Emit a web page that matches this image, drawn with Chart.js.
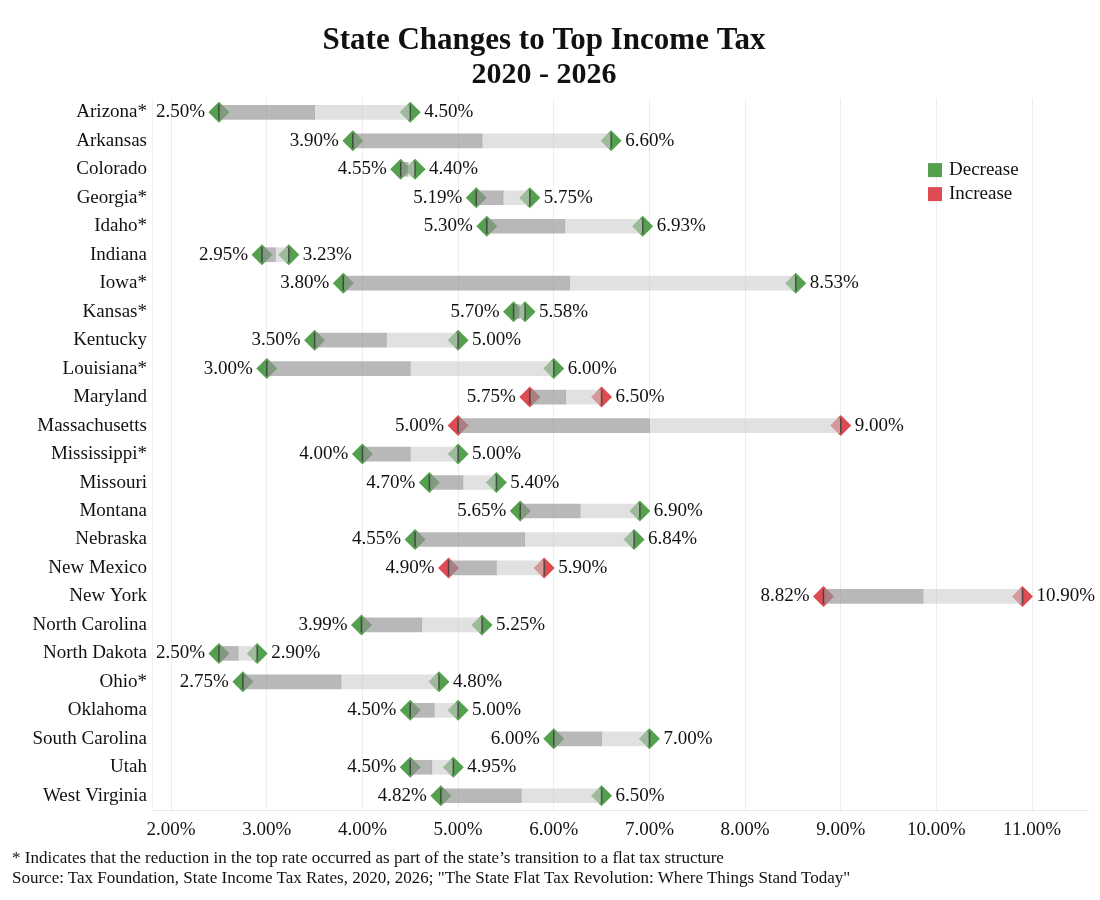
<!DOCTYPE html>
<html>
<head>
<meta charset="utf-8">
<title>State Changes to Top Income Tax</title>
<script src="https://cdn.jsdelivr.net/npm/chart.js@4.4.1/dist/chart.umd.min.js"></script>
<style>
  html, body { margin: 0; padding: 0; background: #fff; }
  #wrap { position: relative; width: 1100px; height: 900px; }
  .note { position: absolute; left: 12px; font-family: "Liberation Serif", serif; font-size: 17px; line-height: 20px; color: #111; white-space: nowrap; }
</style>
</head>
<body>
<div id="wrap">
  <canvas id="taxChart"></canvas>
  <div class="note" style="top:848px">* Indicates that the reduction in the top rate occurred as part of the state’s transition to a flat tax structure</div>
  <div class="note" style="top:868px">Source: Tax Foundation, State Income Tax Rates, 2020, 2026; "The State Flat Tax Revolution: Where Things Stand Today"</div>
</div>
<script>
// top marginal rates (%)
const states = ['Arizona*', 'Arkansas', 'Colorado', 'Georgia*', 'Idaho*', 'Indiana', 'Iowa*', 'Kansas*',
  'Kentucky', 'Louisiana*', 'Maryland', 'Massachusetts', 'Mississippi*', 'Missouri', 'Montana', 'Nebraska',
  'New Mexico', 'New York', 'North Carolina', 'North Dakota', 'Ohio*', 'Oklahoma', 'South Carolina', 'Utah',
  'West Virginia'];
const rate2020 = [4.50, 6.60, 4.55, 5.75, 6.93, 3.23, 8.53, 5.70, 5.00, 6.00, 5.75, 5.00, 5.00, 5.40, 6.90,
  6.84, 4.90, 8.82, 5.25, 2.90, 4.80, 5.00, 7.00, 4.95, 6.50];
const rate2026 = [2.50, 3.90, 4.40, 5.19, 5.30, 2.95, 3.80, 5.58, 3.50, 3.00, 6.50, 9.00, 4.00, 4.70, 5.65,
  4.55, 5.90, 10.90, 3.99, 2.50, 2.75, 4.50, 6.00, 4.50, 4.82];
// rows where the original puts the 2020 label on the left
const swappedLabels = ['Colorado', 'Kansas*'];
const xTicks = [2, 3, 4, 5, 6, 7, 8, 9, 10, 11];
const legendItems = ['Decrease', 'Increase'];

const GREEN = '#55a04e';
const RED = '#dd4c52';
const FONT = '"Liberation Serif", "Times New Roman", serif';

const lows = states.map((s, i) => Math.min(rate2020[i], rate2026[i]));
const highs = states.map((s, i) => Math.max(rate2020[i], rate2026[i]));
const mids = states.map((s, i) => (lows[i] + highs[i]) / 2);
const colorOf = i => (rate2026[i] < rate2020[i] ? GREEN : RED);
const pct = v => v.toFixed(2) + '%';

// value labels + legend
const annotations = {
  id: 'annotations',
  afterDatasetsDraw(chart) {
    const { ctx, chartArea, scales: { x, y } } = chart;
    ctx.save();
    ctx.font = '19px ' + FONT;
    ctx.fillStyle = '#111';
    ctx.textBaseline = 'middle';
    states.forEach((s, i) => {
      const py = y.getPixelForValue(i);
      const swap = swappedLabels.includes(s);
      ctx.textAlign = 'right';
      ctx.fillText(pct(swap ? highs[i] : lows[i]), x.getPixelForValue(lows[i]) - 14, py);
      ctx.textAlign = 'left';
      ctx.fillText(pct(swap ? lows[i] : highs[i]), x.getPixelForValue(highs[i]) + 14, py);
    });

    const lx = chartArea.right - 160, ly = chartArea.top + 65;
    [GREEN, RED].forEach((c, k) => {
      ctx.fillStyle = c;
      ctx.fillRect(lx, ly + k * 24, 14, 14);
      ctx.fillStyle = '#111';
      ctx.textAlign = 'left';
      ctx.fillText(legendItems[k], lx + 21, ly + k * 24 + 7);
    });
    ctx.restore();
  }
};

new Chart(document.getElementById('taxChart'), {
  type: 'bar',
  data: {
    labels: states,
    datasets: [
      {
        type: 'scatter',
        label: 'ticks',
        data: states.flatMap((s, i) => [{ x: rate2020[i], y: s }, { x: rate2026[i], y: s }]),
        pointStyle: 'line',
        rotation: 90,
        radius: 7.5,
        borderWidth: 1.5,
        borderColor: 'rgba(45,45,45,0.75)',
        order: 0
      },
      {
        label: 'first half',
        data: states.map((s, i) => [lows[i], mids[i]]),
        backgroundColor: 'rgba(150,150,150,0.68)',
        barThickness: 14,
        grouped: false,
        order: 1
      },
      {
        label: 'second half',
        data: states.map((s, i) => [mids[i], highs[i]]),
        backgroundColor: 'rgba(205,205,205,0.6)',
        barThickness: 14,
        grouped: false,
        order: 1
      },
      {
        type: 'scatter',
        label: '2020',
        data: states.map((s, i) => ({ x: rate2020[i], y: s })),
        pointStyle: 'rectRot',
        radius: 10.5,
        borderWidth: 0,
        backgroundColor: ctx => colorOf(ctx.dataIndex),
        order: 2
      },
      {
        type: 'scatter',
        label: '2026',
        data: states.map((s, i) => ({ x: rate2026[i], y: s })),
        pointStyle: 'rectRot',
        radius: 10.5,
        borderWidth: 0,
        backgroundColor: ctx => colorOf(ctx.dataIndex),
        order: 2
      }
    ]
  },
  options: {
    indexAxis: 'y',
    responsive: true,
    maintainAspectRatio: false,
    animation: false,
    events: [],
    layout: { padding: { left: 0, right: 12, top: 0, bottom: 50 } },
    scales: {
      x: {
        type: 'linear',
        min: 1.8,
        max: 11.585,
        afterBuildTicks: scale => { scale.ticks = xTicks.map(v => ({ value: v })); },
        afterFit: scale => { scale.height = 40; },
        grid: { color: '#ededed', drawTicks: false },
        border: { color: '#e6e6e6' },
        ticks: {
          padding: 9,
          color: '#111',
          font: { family: FONT, size: 19 },
          callback: v => pct(v)
        }
      },
      y: {
        type: 'category',
        afterFit: scale => { scale.width = 152; },
        grid: { display: false, drawTicks: false },
        border: { color: '#f0f0f0' },
        ticks: {
          padding: 5,
          color: '#111',
          font: { family: FONT, size: 19 }
        }
      }
    },
    plugins: {
      legend: { display: false },
      tooltip: { enabled: false },
      title: {
        display: true,
        text: 'State Changes to Top Income Tax',
        color: '#111',
        font: { family: FONT, size: 31, weight: 'bold', lineHeight: 1.1 },
        padding: { top: 24, bottom: 1 }
      },
      subtitle: {
        display: true,
        text: '2020 - 2026',
        color: '#111',
        font: { family: FONT, size: 30, weight: 'bold', lineHeight: 1.1 },
        padding: { top: 0, bottom: 6 }
      }
    }
  },
  plugins: [annotations]
});
</script>
</body>
</html>
